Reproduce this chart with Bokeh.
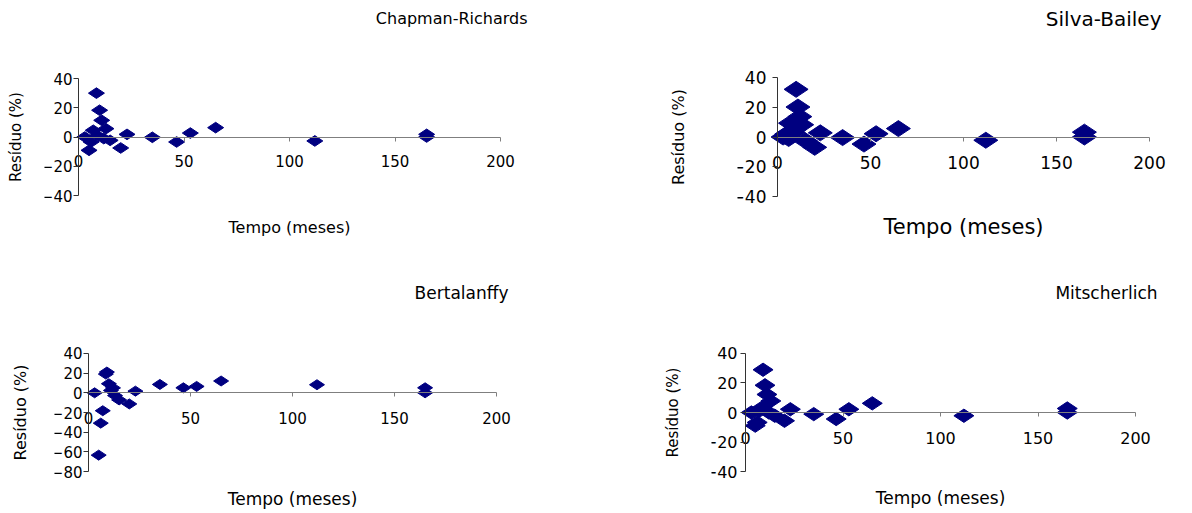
import math
from bokeh.plotting import figure
from bokeh.models import FixedTicker, Range1d, LinearAxis, Title
from bokeh.layouts import column, row
from bokeh.embed import file_html
from bokeh.resources import INLINE

# ---- data ----
tempo = [3, 5, 6, 7, 8.5, 9, 10, 11, 12, 13, 15, 20, 23, 35, 46.5, 53, 65, 112, 165, 165]
res_chapman = [0, -9.1, -3.4, 4.6, 30.0, 1.0, 18.3, 11.4, -1.1, 5.7, -2.3, -7.5, 1.8, -0.2, -3.4, 2.7, 6.4, -2.7, 1.8, 0]
res_silva = [0, 2, -1, 9.4, 3, 5, 32.3, 20.3, 13.8, 8.3, -2.6, -7, 2.8, -0.4, -4.8, 2.2, 5.7, -2.2, 3.3, 0]
res_bertalanffy = [0, -63.3, -30.8, -18.2, 19, 21.1, 9.2, 2.4, 5, -2.8, -7.2, -11.3, 1.7, 8.5, 5.1, 6.5, 12.0, 8.2, 5.1, 0]
res_mitscherlich = [0, -8.9, -6.7, 1.1, 3.3, 28.9, 18.4, 12.2, 0, 7.8, -2.2, -5.6, 2.2, -1.1, -4.4, 2.2, 6.2, -2.2, 2.7, 0]

x_ticks = [0, 50, 100, 150, 200]
y_ticks_a = [-40, -20, 0, 20, 40]
y_ticks_b = [-80, -60, -40, -20, 0, 20, 40]

titles = ["Chapman-Richards", "Silva-Bailey", "Bertalanffy", "Mitscherlich"]
x_label = "Tempo (meses)"
y_label = "Resíduo (%)"

FONT = "DejaVu Sans"
NAVY = "#000080"
EM = 1.164  # line height of DejaVu Sans in em

# figure sizes (page has no margin)
W1, W2 = 592, 600
H1, H2 = 266, 245
PAD_T, PAD_B = 11, 11


def blank_axis(**kw):
    opts = dict(ticker=FixedTicker(ticks=[]), axis_line_color=None,
                major_tick_line_color=None, minor_tick_line_color=None,
                major_tick_in=0, major_tick_out=0, minor_tick_in=0, minor_tick_out=0,
                major_label_standoff=0, axis_label_text_font=FONT,
                axis_label_text_font_style="normal", axis_label_text_color="black")
    opts.update(kw)
    return LinearAxis(**opts)


def panel(name, res, yr, yticks, fx, fy, width, height, X0, X1, Yt, Yb, pad,
          tick_fs, xt_stand, yt_stand, msize,
          title_fs, title_right, title_cy,
          xlab_fs, xlab_cy, ylab_fs, ylab_cx):
    ymin, ymax = yr
    kx = (X1 - X0) / 200.0
    ky = (Yb - Yt) / float(ymax - ymin)
    x_start, x_end = -pad / kx, 200 + pad / kx
    y_start, y_end = ymin - PAD_B / ky, ymax + PAD_T / ky
    f_left, f_right = X0 - pad, X1 + pad
    f_top, f_bot = Yt - PAD_T, Yb + PAD_B

    p = figure(width=width, height=height,
               x_range=Range1d(x_start, x_end), y_range=Range1d(y_start, y_end),
               output_backend="svg", toolbar_location=None,
               min_border_left=f_left - fx, min_border_right=(fx + width) - f_right,
               min_border_top=f_top - fy, min_border_bottom=(fy + height) - f_bot)
    p.outline_line_color = None
    p.grid.visible = False
    p.background_fill_color = "white"
    p.border_fill_color = "white"

    xa = p.xaxis[0]
    xa.fixed_location = 0
    xa.bounds = (0, 200)
    xa.ticker = FixedTicker(ticks=x_ticks)
    xa.minor_tick_line_color = None
    xa.major_tick_in = 0
    xa.major_tick_out = 4
    xa.axis_line_color = "#7f7f7f"
    xa.major_tick_line_color = "#7f7f7f"
    xa.major_label_text_font = FONT
    xa.major_label_text_font_size = f"{tick_fs}px"
    xa.major_label_text_color = "black"
    xa.major_label_standoff = xt_stand

    ya = p.yaxis[0]
    ya.fixed_location = 0
    ya.bounds = (ymin, ymax)
    ya.ticker = FixedTicker(ticks=yticks)
    ya.minor_tick_line_color = None
    ya.major_tick_in = 0
    ya.major_tick_out = 5
    ya.axis_line_color = "#333333"
    ya.major_tick_line_color = "#333333"
    ya.major_label_text_font = FONT
    ya.major_label_text_font_size = f"{tick_fs}px"
    ya.major_label_text_color = "black"
    ya.major_label_standoff = yt_stand

    # y axis title (left of the frame)
    ylab_right = ylab_cx + ylab_fs * EM / 2
    p.add_layout(blank_axis(axis_label=y_label,
                            axis_label_standoff=int(round(f_left - ylab_right)),
                            axis_label_text_font_size=f"{ylab_fs}px"), "left")
    # x axis title (below the frame)
    xlab_top = xlab_cy - xlab_fs * EM / 2
    p.add_layout(blank_axis(axis_label=x_label,
                            axis_label_standoff=int(round(xlab_top - f_bot)),
                            axis_label_text_font_size=f"{xlab_fs}px"), "below")
    # spacer next to the frame, then the right-aligned panel title above it
    title_bottom = title_cy + title_fs * EM / 2
    gap = f_top - title_bottom
    p.add_layout(blank_axis(axis_label=" ", axis_label_standoff=int(round(gap - 1.2)),
                            axis_label_text_font_size="1px"), "above")
    p.add_layout(Title(text=name, align="right", offset=f_right - title_right,
                       standoff=0, text_font=FONT, text_font_style="normal",
                       text_font_size=f"{title_fs}px", text_color="black"), "above")

    p.scatter(tempo, res, marker="diamond", angle=math.pi / 2, size=msize,
              fill_color=NAVY, line_color=NAVY)
    return p


p1 = panel(titles[0], res_chapman, (-40, 40), y_ticks_a, 0, 0, W1, H1,
           78, 500, 78, 195, 34, 15, 14, 1, 16,
           16, 527, 20, 16, 226, 15, 15)
p2 = panel(titles[1], res_silva, (-40, 40), y_ticks_a, W1, 0, W2, H1,
           777, 1149, 78, 202, 40, 17, 15, 6, 24,
           20, 1161, 21, 21, 233, 16, 678)
p3 = panel(titles[2], res_bertalanffy, (-80, 40), y_ticks_b, 0, H1, W1, H2,
           88, 496, 353, 472, 34, 15, 15, 1, 15,
           17, 508, 295, 17, 499, 16, 20)
p4 = panel(titles[3], res_mitscherlich, (-40, 40), y_ticks_a, W1, H1, W2, H2,
           745, 1135, 353, 473, 34, 16, 15, 3, 20,
           17, 1157, 295, 17, 499, 15, 672)

layout = column(row(p1, p2, spacing=0), row(p3, p4, spacing=0), spacing=0)

open("out.html", "w").write(file_html(layout, INLINE))
